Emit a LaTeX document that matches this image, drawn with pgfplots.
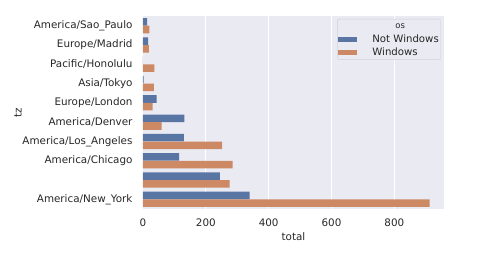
\documentclass[border=0pt]{standalone}
\usepackage{pgfplots}
\pgfplotsset{compat=1.18}
\usepackage{fontspec}
\setmainfont{DejaVu Sans}
\definecolor{sbblue}{HTML}{5875A4}
\definecolor{sborange}{HTML}{CC8963}
\definecolor{sbbg}{HTML}{EAEAF2}
\definecolor{sbtext}{HTML}{262626}
\definecolor{sbframe}{HTML}{D0D0D8}
\pgfplotsset{sblegend/.style={legend image code/.code={\path[##1, sharp corners] (0bp,-2.5bp) rectangle (19bp,2.5bp);}}}
\begin{document}
\begin{tikzpicture}
\begin{axis}[name=ax, scale only axis, width=301bp, height=193bp,
  xmin=0, xmax=958, ymin=-0.5, ymax=9.5, y dir=reverse,
  ytick={0,...,9},
  yticklabels={America/Sao\_Paulo, Europe/Madrid, Pacific/Honolulu, Asia/Tokyo, Europe/London, America/Denver, America/Los\_Angeles, America/Chicago, {}, America/New\_York},
  xtick={0,200,400,600,800},
  axis background/.style={fill=sbbg},
  axis line style={draw=none},
  major tick length=0,
  xmajorgrids, grid style={white, line width=1bp},
  ticklabel style={font=\fontsize{10.4}{12}\selectfont, text=sbtext},
  yticklabel style={xshift=-7bp},
  xticklabel style={yshift=-6.5bp},
  /pgf/number format/assume math mode=true,
  xlabel={total}, ylabel={tz},
  label style={font=\fontsize{10.4}{12}\selectfont, text=sbtext},
  xlabel style={at={(axis description cs:0.5,-0.145)}, anchor=center},
  ylabel style={at={(axis description cs:-0.415,0.5)}, anchor=center},
  legend entries={\hspace*{23bp}{\fontsize{8.5}{9}\selectfont os}, Not Windows, Windows},
  legend cell align=left,
  legend style={at={(axis description cs:0.99,0.985)}, anchor=north east,
    fill=sbbg, draw=sbframe, rounded corners=1.5bp, text=sbtext,
    font=\fontsize{10.2}{12}\selectfont, row sep=2bp, inner sep=1bp,
    nodes={inner sep=1bp, text height=7.5bp, text depth=2bp},
    /tikz/every odd column/.append style={column sep=14bp}},
]
\addlegendimage{empty legend}
\addplot[xbar, bar width=0.39, bar shift=-0.2, fill=sbblue, draw=none, sblegend]
  coordinates {(13,0) (16,1) (0,2) (2,3) (43,4) (132,5) (130,6) (115,7) (245,8) (339,9)};
\addplot[xbar, bar width=0.39, bar shift=0.2, fill=sborange, draw=none, sblegend]
  coordinates {(20,0) (19,1) (36,2) (35,3) (31,4) (59,5) (252,6) (285,7) (276,8) (912,9)};
\end{axis}
\path (ax.south west) ++(-143bp,-50bp) rectangle ++(487bp,259bp);
\end{tikzpicture}
\end{document}
